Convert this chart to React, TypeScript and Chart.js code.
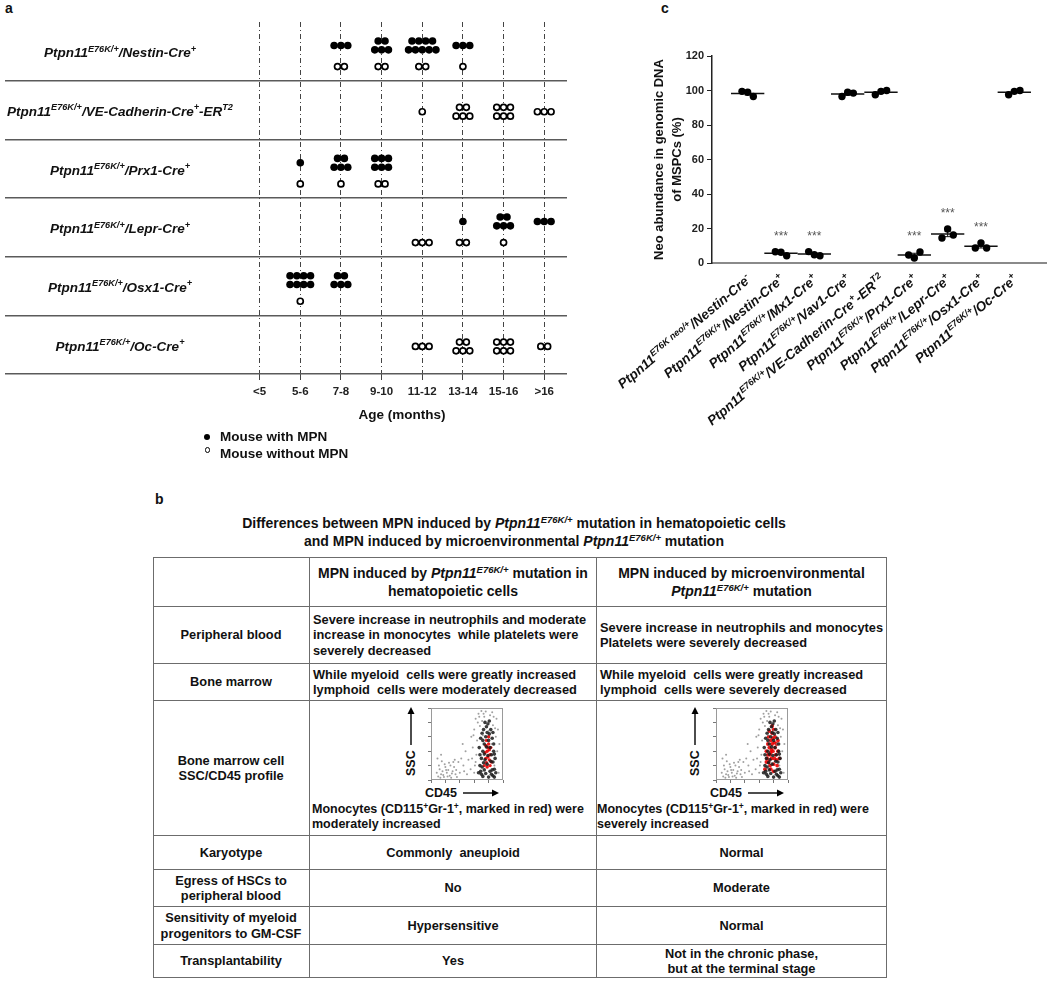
import React, { useEffect, useRef } from 'react';
import { Chart, registerables } from 'chart.js';

Chart.register(...registerables);

type Seg = { t: string; s?: boolean };

const FAMILY = '"Liberation Sans", Arial, Helvetica, sans-serif';

// ---------------- Panel a data ----------------
const ageLabels = ['<5', '5-6', '7-8', '9-10', '11-12', '13-14', '15-16', '>16'];
const strainLabels: Seg[][] = [
  [{ t: 'Ptpn11' }, { t: 'E76K/+', s: true }, { t: '/Nestin-Cre' }, { t: '+', s: true }],
  [{ t: 'Ptpn11' }, { t: 'E76K/+', s: true }, { t: '/VE-Cadherin-Cre' }, { t: '+', s: true }, { t: '-ER' }, { t: 'T2', s: true }],
  [{ t: 'Ptpn11' }, { t: 'E76K/+', s: true }, { t: '/Prx1-Cre' }, { t: '+', s: true }],
  [{ t: 'Ptpn11' }, { t: 'E76K/+', s: true }, { t: '/Lepr-Cre' }, { t: '+', s: true }],
  [{ t: 'Ptpn11' }, { t: 'E76K/+', s: true }, { t: '/Osx1-Cre' }, { t: '+', s: true }],
  [{ t: 'Ptpn11' }, { t: 'E76K/+', s: true }, { t: '/Oc-Cre' }, { t: '+', s: true }],
];
// number of mice per strain (rows) and age group (columns)
const miceWithMPN = [
  [0, 0, 3, 5, 9, 3, 0, 0],
  [0, 0, 0, 0, 0, 0, 0, 0],
  [0, 1, 5, 6, 0, 0, 0, 0],
  [0, 0, 0, 0, 0, 1, 5, 3],
  [0, 8, 5, 0, 0, 0, 0, 0],
  [0, 0, 0, 0, 0, 0, 0, 0],
];
const miceWithoutMPN = [
  [0, 0, 2, 2, 2, 1, 0, 0],
  [0, 0, 0, 0, 1, 5, 6, 3],
  [0, 1, 1, 2, 0, 0, 0, 0],
  [0, 0, 0, 0, 3, 2, 1, 0],
  [0, 1, 0, 0, 0, 0, 0, 0],
  [0, 0, 0, 0, 3, 5, 6, 2],
];

// ---------------- Panel c data ----------------
const neoLabels: Seg[][] = [
  [{ t: 'Ptpn11' }, { t: 'E76K neo/+', s: true }, { t: '/Nestin-Cre' }, { t: '-', s: true }],
  [{ t: 'Ptpn11' }, { t: 'E76K/+', s: true }, { t: '/Nestin-Cre' }, { t: '+', s: true }],
  [{ t: 'Ptpn11' }, { t: 'E76K/+', s: true }, { t: '/Mx1-Cre' }, { t: '+', s: true }],
  [{ t: 'Ptpn11' }, { t: 'E76K/+', s: true }, { t: '/Vav1-Cre' }, { t: '+', s: true }],
  [{ t: 'Ptpn11' }, { t: 'E76K/+', s: true }, { t: '/VE-Cadherin-Cre' }, { t: '+', s: true }, { t: '-ER' }, { t: 'T2', s: true }],
  [{ t: 'Ptpn11' }, { t: 'E76K/+', s: true }, { t: '/Prx1-Cre' }, { t: '+', s: true }],
  [{ t: 'Ptpn11' }, { t: 'E76K/+', s: true }, { t: '/Lepr-Cre' }, { t: '+', s: true }],
  [{ t: 'Ptpn11' }, { t: 'E76K/+', s: true }, { t: '/Osx1-Cre' }, { t: '+', s: true }],
  [{ t: 'Ptpn11' }, { t: 'E76K/+', s: true }, { t: '/Oc-Cre' }, { t: '+', s: true }],
];
const neoValues = [
  [99.5, 99, 96.5],
  [6.5, 6.2, 4.2],
  [6.6, 4.8, 4.2],
  [96.5, 99, 98.5],
  [97.5, 99.5, 100],
  [4.6, 2.9, 6.4],
  [14.5, 19.7, 16.2],
  [8.7, 11.6, 8.7],
  [97.5, 99.5, 100],
];
const neoSignificance = ['', '***', '***', '', '', '***', '***', '***', ''];
const neoTicks = [0, 20, 40, 60, 80, 100, 120];

// ---------------- Flow cytometry insets (SSC vs CD45) ----------------
const flowGray: number[][] = [
  [10, 5], [14, 8], [18, 4], [22, 10], [26, 6], [30, 12], [12, 15], [20, 18], [28, 3], [34, 8], [16, 12], [24, 14],
  [32, 18], [8, 10], [36, 4], [19, 22], [27, 20], [13, 3], [17, 7], [23, 5], [29, 9], [21, 14], [25, 24], [11, 20],
  [15, 26], [31, 25], [9, 30], [35, 14], [33, 28], [14, 35],
  [40, 10], [45, 20], [50, 8], [42, 30], [55, 15], [48, 40], [38, 25], [52, 28], [58, 45], [44, 50], [56, 60], [46, 12],
  [60, 70], [62, 85], [66, 92], [70, 96], [74, 88], [78, 80], [82, 90], [86, 76], [90, 60], [92, 40], [88, 20], [94, 10],
  [64, 55], [84, 50], [68, 75], [76, 95], [80, 68], [63, 35], [91, 85], [72, 62], [61, 20], [65, 80], [87, 88], [93, 70],
  [59, 62], [67, 88], [71, 82], [85, 94], [89, 72], [95, 50], [60, 10], [62, 25], [57, 30], [73, 92],
];
const flowBlack: number[][] = [
  [66, 10], [68, 20], [70, 30], [72, 40], [74, 50], [76, 60], [78, 66], [80, 55], [82, 45], [84, 35], [86, 25], [88, 15],
  [70, 8], [74, 14], [78, 22], [82, 12], [86, 6], [90, 10], [67, 45], [69, 58], [73, 70], [77, 74], [81, 64], [85, 58],
  [87, 40], [89, 30], [71, 18], [79, 34], [83, 26], [75, 28], [72, 5], [76, 9], [80, 4], [84, 8], [88, 4], [68, 35],
  [75, 80], [79, 78], [83, 70], [71, 65], [73, 24], [77, 46], [85, 14], [69, 12], [87, 50], [81, 82], [74, 36], [88, 36],
  [72, 55], [86, 66],
];
const flowRedHema: number[][] = [
  [74, 20], [76, 30], [78, 40], [80, 50], [82, 35], [84, 25], [77, 55], [79, 45], [81, 28], [75, 38], [83, 45], [78, 18],
  [80, 60], [76, 48], [82, 20], [79, 32], [77, 24], [81, 42],
];
const flowRedMicro: number[][] = [
  [68, 15], [70, 25], [72, 35], [74, 45], [76, 55], [78, 65], [80, 70], [82, 60], [84, 50], [86, 40], [88, 30], [85, 20],
  [80, 12], [75, 20], [72, 50], [70, 40], [73, 60], [77, 30], [79, 40], [81, 30], [83, 35], [78, 50], [74, 68], [76, 15],
  [82, 45], [86, 55], [71, 30], [79, 58], [84, 28], [77, 42], [75, 35], [80, 22], [73, 25], [78, 75], [81, 52], [76, 38],
];

// ---------------- helpers ----------------
function fontStr(size: number, italic: boolean, bold = true) {
  return `${italic ? 'italic ' : ''}${bold ? 'bold ' : ''}${size}px ${FAMILY}`;
}
function richWidth(ctx: CanvasRenderingContext2D, segs: Seg[], size: number, italic: boolean) {
  let w = 0;
  for (const sg of segs) {
    ctx.font = fontStr(sg.s ? size * 0.68 : size, italic);
    w += ctx.measureText(sg.t).width;
  }
  return w;
}
function drawRich(ctx: CanvasRenderingContext2D, segs: Seg[], x: number, y: number, size: number, align: string, italic: boolean) {
  const w = richWidth(ctx, segs, size, italic);
  let cx = align === 'center' ? x - w / 2 : align === 'right' ? x - w : x;
  ctx.textAlign = 'left';
  ctx.textBaseline = 'alphabetic';
  for (const sg of segs) {
    const sz = sg.s ? size * 0.68 : size;
    ctx.font = fontStr(sz, italic);
    ctx.fillText(sg.t, cx, sg.s ? y - size * 0.42 : y);
    cx += ctx.measureText(sg.t).width;
  }
}

// arranges n mice of one age group as a small packed cluster around (cx, cy)
function clusterPoints(n: number, cx: number, cy: number, out: { x: number; y: number }[]) {
  const DX = 0.168;
  const DY = 0.075;
  if (n <= 0) return;
  if (n <= 3) {
    for (let i = 0; i < n; i++) out.push({ x: cx + (i - (n - 1) / 2) * DX, y: cy });
    return;
  }
  const bottom = Math.ceil(n / 2);
  const top = n - bottom;
  for (let i = 0; i < top; i++) out.push({ x: cx + (i - (top - 1) / 2) * DX, y: cy - DY });
  for (let i = 0; i < bottom; i++) out.push({ x: cx + (i - (bottom - 1) / 2) * DX, y: cy + DY });
}

function makeMouseChart(canvas: HTMLCanvasElement) {
  const filled: { x: number; y: number }[] = [];
  const open: { x: number; y: number }[] = [];
  strainLabels.forEach((_, r) => {
    const hasFilled = miceWithMPN[r].some((v) => v > 0);
    ageLabels.forEach((__, c) => {
      clusterPoints(miceWithMPN[r][c], c, r + 0.5 - 0.1, filled);
      clusterPoints(miceWithoutMPN[r][c], c, r + 0.5 + (hasFilled ? 0.26 : 0.03), open);
    });
  });
  const labelPlugin = {
    id: 'rowLabels',
    afterDraw(chart: any) {
      const ctx = chart.ctx as CanvasRenderingContext2D;
      const ys = chart.scales.y;
      const xs = chart.scales.x;
      ctx.save();
      ctx.fillStyle = '#111';
      strainLabels.forEach((segs, r) => {
        const py = ys.getPixelForValue(r + 0.5);
        drawRich(ctx, segs, 120, py + 13.5 * 0.36 + 1, 13.5, 'center', true);
      });
      ctx.font = fontStr(13.5, false);
      ctx.textAlign = 'center';
      ctx.textBaseline = 'middle';
      ctx.fillText('Age (months)', xs.getPixelForValue((ageLabels.length - 1) / 2), chart.chartArea.bottom + 41);
      ctx.restore();
    },
  };
  return new Chart(canvas, {
    type: 'scatter',
    data: {
      datasets: [
        { label: 'Mouse with MPN', data: filled, pointRadius: 3.8, pointHoverRadius: 3.8, pointBackgroundColor: '#000', pointBorderColor: '#000', pointBorderWidth: 0 },
        { label: 'Mouse without MPN', data: open, pointRadius: 3.0, pointHoverRadius: 3.0, pointBackgroundColor: '#fff', pointBorderColor: '#000', pointBorderWidth: 1.7 },
      ],
    },
    options: {
      responsive: false,
      animation: false,
      events: [],
      layout: { padding: { left: 0, right: 13, top: 22, bottom: 0 } },
      plugins: { legend: { display: false }, tooltip: { enabled: false } },
      scales: {
        x: {
          type: 'linear',
          min: -6.27,
          max: 7.56,
          afterBuildTicks: (s: any) => {
            s.ticks = ageLabels.map((_, i) => ({ value: i }));
          },
          afterFit: (s: any) => {
            s.height = 56;
          },
          ticks: {
            autoSkip: false,
            maxRotation: 0,
            padding: 5,
            color: '#222',
            font: { family: FAMILY, size: 11.5, weight: 'bold' },
            callback: (v: any) => ageLabels[v] ?? '',
          },
          grid: { color: '#444', lineWidth: 1, drawTicks: true, tickLength: 6 },
          border: { display: false, dash: [5, 3, 1, 3] },
        },
        y: {
          type: 'linear',
          reverse: true,
          min: 0,
          max: strainLabels.length,
          afterBuildTicks: (s: any) => {
            s.ticks = strainLabels.map((_, i) => ({ value: i + 1 }));
          },
          afterFit: (s: any) => {
            s.width = 0;
          },
          ticks: { display: false },
          grid: { color: '#5a5a5a', lineWidth: 1.5, drawTicks: false },
          border: { display: false },
        },
      },
    } as any,
    plugins: [labelPlugin],
  });
}

function makeNeoChart(canvas: HTMLCanvasElement) {
  const pts: { x: number; y: number }[] = [];
  neoValues.forEach((vals, i) => {
    vals.forEach((v, j) => pts.push({ x: i + (j - (vals.length - 1) / 2) * 0.17, y: v }));
  });
  const meanPlugin = {
    id: 'meanLines',
    beforeDatasetsDraw(chart: any) {
      const ctx = chart.ctx as CanvasRenderingContext2D;
      const xs = chart.scales.x;
      const ys = chart.scales.y;
      ctx.save();
      ctx.strokeStyle = '#111';
      neoValues.forEach((vals, i) => {
        const n = vals.length;
        const m = vals.reduce((a, b) => a + b, 0) / n;
        const sd = Math.sqrt(vals.reduce((a, b) => a + (b - m) * (b - m), 0) / (n - 1));
        const sem = sd / Math.sqrt(n);
        const ym = ys.getPixelForValue(m);
        ctx.lineWidth = 1.5;
        ctx.beginPath();
        ctx.moveTo(xs.getPixelForValue(i - 0.5), ym);
        ctx.lineTo(xs.getPixelForValue(i + 0.5), ym);
        ctx.stroke();
        const xc = xs.getPixelForValue(i);
        const yt = ys.getPixelForValue(m + sem);
        const yb = ys.getPixelForValue(m - sem);
        ctx.lineWidth = 1;
        ctx.beginPath();
        ctx.moveTo(xc, yt);
        ctx.lineTo(xc, yb);
        ctx.moveTo(xc - 3, yt);
        ctx.lineTo(xc + 3, yt);
        ctx.moveTo(xc - 3, yb);
        ctx.lineTo(xc + 3, yb);
        ctx.stroke();
      });
      ctx.restore();
    },
    afterDraw(chart: any) {
      const ctx = chart.ctx as CanvasRenderingContext2D;
      const xs = chart.scales.x;
      const ys = chart.scales.y;
      ctx.save();
      neoValues.forEach((vals, i) => {
        if (!neoSignificance[i]) return;
        ctx.fillStyle = '#555';
        ctx.font = `12px ${FAMILY}`;
        ctx.textAlign = 'center';
        ctx.textBaseline = 'middle';
        ctx.fillText(neoSignificance[i], xs.getPixelForValue(i), ys.getPixelForValue(Math.max(...vals) + 10) + 2);
      });
      ctx.fillStyle = '#111';
      neoLabels.forEach((segs, i) => {
        const px = xs.getPixelForValue(i);
        ctx.save();
        ctx.translate(px + 1, chart.chartArea.bottom + 14);
        ctx.rotate((-40 * Math.PI) / 180);
        drawRich(ctx, segs, 0, 5, 13.5, 'right', true);
        ctx.restore();
      });
      ctx.restore();
    },
  };
  return new Chart(canvas, {
    type: 'scatter',
    data: {
      datasets: [
        { label: 'Neo abundance', data: pts, pointRadius: 3.7, pointHoverRadius: 3.7, pointBackgroundColor: '#000', pointBorderColor: '#000', pointBorderWidth: 0 },
      ],
    },
    options: {
      responsive: false,
      animation: false,
      events: [],
      layout: { padding: { left: 80, right: 2, top: 56, bottom: 0 } },
      plugins: { legend: { display: false }, tooltip: { enabled: false } },
      scales: {
        x: {
          type: 'linear',
          min: -1.07,
          max: neoLabels.length - 1 + 0.96,
          ticks: { display: false },
          grid: { display: false },
          border: { display: true, color: '#8a8a8a', width: 2 },
          afterFit: (s: any) => {
            s.height = 187;
          },
        },
        y: {
          type: 'linear',
          min: neoTicks[0],
          max: neoTicks[neoTicks.length - 1],
          afterBuildTicks: (s: any) => {
            s.ticks = neoTicks.map((v) => ({ value: v }));
          },
          afterFit: (s: any) => {
            s.width = 72;
          },
          ticks: { color: '#222', padding: 3, font: { family: FAMILY, size: 11, weight: 'bold' } },
          grid: { drawOnChartArea: false, drawTicks: true, tickLength: 5, color: '#222', lineWidth: 1 },
          border: { display: true, color: '#222', width: 1.5 },
          title: {
            display: true,
            text: ['Neo abundance in genomic DNA', 'of MSPCs (%)'],
            color: '#111',
            font: { family: FAMILY, size: 13, weight: 'bold', lineHeight: 18 / 13 },
            padding: { top: 10, bottom: 0 },
          },
        },
      },
    } as any,
    plugins: [meanPlugin],
  });
}

function makeFlowChart(canvas: HTMLCanvasElement, red: number[][], redRadius: number) {
  const toPts = (a: number[][]) => a.map(([x, y]) => ({ x, y }));
  const boxPlugin = {
    id: 'box',
    afterDraw(chart: any) {
      const { ctx, chartArea } = chart;
      ctx.save();
      ctx.strokeStyle = '#9a9a9a';
      ctx.lineWidth = 1;
      ctx.strokeRect(chartArea.left + 0.5, chartArea.top + 0.5, chartArea.right - chartArea.left - 1, chartArea.bottom - chartArea.top - 1);
      ctx.restore();
    },
  };
  const axis = (isX: boolean) => ({
    type: 'linear',
    min: 0,
    max: 100,
    ticks: { display: false, stepSize: 20 },
    grid: { drawOnChartArea: false, drawTicks: true, tickLength: 3, color: '#777' },
    border: { display: false },
    afterFit: (s: any) => {
      if (isX) s.height = 6;
      else s.width = 6;
    },
  });
  return new Chart(canvas, {
    type: 'scatter',
    data: {
      datasets: [
        { label: 'all cells', data: toPts(flowGray), pointRadius: 1.0, pointBackgroundColor: 'rgba(120,120,120,0.7)', pointBorderWidth: 0 },
        { label: 'dense', data: toPts(flowBlack), pointRadius: 1.8, pointBackgroundColor: 'rgba(25,25,25,0.85)', pointBorderWidth: 0 },
        { label: 'CD115+Gr-1+ monocytes', data: toPts(red), pointRadius: redRadius, pointBackgroundColor: 'rgba(235,0,0,0.9)', pointBorderWidth: 0 },
      ],
    },
    options: {
      responsive: false,
      animation: false,
      events: [],
      layout: { padding: { left: 2, right: 2, top: 2, bottom: 0 } },
      plugins: { legend: { display: false }, tooltip: { enabled: false } },
      scales: { x: axis(true), y: axis(false) },
    } as any,
    plugins: [boxPlugin],
  });
}

function ChartCanvas({ left, top, width, height, make }: { left: number; top: number; width: number; height: number; make: (c: HTMLCanvasElement) => Chart }) {
  const ref = useRef<HTMLCanvasElement>(null);
  useEffect(() => {
    const chart = make(ref.current as HTMLCanvasElement);
    return () => chart.destroy();
  }, []);
  return <canvas ref={ref} width={width} height={height} style={{ position: 'absolute', left, top, width, height }} />;
}

// ---------------- table ----------------
const colX = [153, 310, 597, 887];
const rowY = [557, 607, 664, 701, 836, 870, 907, 945, 978];

const Gene = () => (
  <>
    <i>Ptpn11</i>
    <sup style={{ fontSize: '0.68em', verticalAlign: '0.5em', lineHeight: 0, fontStyle: 'italic' }}>E76K/+</sup>
  </>
);
const Sup = ({ t }: { t: string }) => <sup style={{ fontSize: '0.68em', verticalAlign: '0.45em', lineHeight: 0 }}>{t}</sup>;

type Cell = { content: React.ReactNode; align?: 'left' | 'center'; size?: number };
const tableRows: Cell[][] = [
  [
    { content: '' },
    { content: (<>MPN induced by <Gene /> mutation in<br />hematopoietic cells</>), size: 14 },
    { content: (<>MPN induced by microenvironmental<br /><Gene /> mutation</>), size: 14 },
  ],
  [
    { content: 'Peripheral blood' },
    { content: (<>Severe increase in neutrophils and moderate<br />increase in monocytes  while platelets were<br />severely decreased</>), align: 'left' },
    { content: (<>Severe increase in neutrophils and monocytes<br />Platelets were severely decreased</>), align: 'left' },
  ],
  [
    { content: 'Bone marrow' },
    { content: (<>While myeloid  cells were greatly increased<br />lymphoid  cells were moderately decreased</>), align: 'left' },
    { content: (<>While myeloid  cells were greatly increased<br />lymphoid  cells were severely decreased</>), align: 'left' },
  ],
  [
    { content: (<>Bone marrow cell<br />SSC/CD45 profile</>) },
    { content: '' },
    { content: '' },
  ],
  [{ content: 'Karyotype' }, { content: 'Commonly  aneuploid' }, { content: 'Normal' }],
  [{ content: (<>Egress of HSCs to<br />peripheral blood</>) }, { content: 'No' }, { content: 'Moderate' }],
  [{ content: (<>Sensitivity of myeloid<br />progenitors to GM-CSF</>) }, { content: 'Hypersensitive' }, { content: 'Normal' }],
  [{ content: 'Transplantability' }, { content: 'Yes' }, { content: (<>Not in the chronic phase,<br />but at the terminal stage</>) }],
];

const BORDER = '1.6px solid #6c6c6c';

function Arrow({ len }: { len: number }) {
  return (
    <svg width={len} height={10} style={{ display: 'block' }}>
      <line x1={0} y1={5} x2={len - 6} y2={5} stroke="#000" strokeWidth={1.4} />
      <polygon points={`${len - 7},1.5 ${len},5 ${len - 7},8.5`} fill="#000" />
    </svg>
  );
}

function FlowInset({ boxLeft, sscX, red, redRadius, caption }: { boxLeft: number; sscX: number; red: number[][]; redRadius: number; caption: React.ReactNode }) {
  return (
    <>
      <ChartCanvas left={boxLeft - 8} top={704} width={84} height={82} make={(c) => makeFlowChart(c, red, redRadius)} />
      <div
        style={{
          position: 'absolute', left: sscX - 36, top: 733, width: 72, height: 14, transform: 'rotate(-90deg)',
          display: 'flex', alignItems: 'center', gap: 5, fontSize: 12.5, fontWeight: 'bold', lineHeight: '14px',
        }}
      >
        <span>SSC</span>
        <Arrow len={38} />
      </div>
      <div style={{ position: 'absolute', left: boxLeft - 6, top: 786, height: 14, display: 'flex', alignItems: 'center', gap: 6, fontSize: 12.5, fontWeight: 'bold' }}>
        <span>CD45</span>
        <Arrow len={36} />
      </div>
      <div style={{ position: 'absolute', left: boxLeft - 119, top: 802, fontSize: 12.5, fontWeight: 'bold', lineHeight: '14.5px', whiteSpace: 'pre' }}>{caption}</div>
    </>
  );
}

export default function App() {
  return (
    <div style={{ position: 'absolute', left: 0, top: 0, width: 1050, height: 981, background: '#fff', fontFamily: FAMILY, color: '#111', overflow: 'hidden' }}>
      <div style={{ position: 'absolute', left: 5, top: 0, fontSize: 14, fontWeight: 'bold', lineHeight: '16px' }}>a</div>
      <div style={{ position: 'absolute', left: 661, top: 0, fontSize: 14, fontWeight: 'bold', lineHeight: '16px' }}>c</div>
      <div style={{ position: 'absolute', left: 155, top: 491, fontSize: 14, fontWeight: 'bold', lineHeight: '16px' }}>b</div>

      <ChartCanvas left={0} top={0} width={580} height={430} make={makeMouseChart} />
      <ChartCanvas left={560} top={0} width={490} height={450} make={makeNeoChart} />

      {/* legend of panel a */}
      <div style={{ position: 'absolute', left: 204, top: 434, width: 6, height: 6, borderRadius: '50%', background: '#000' }} />
      <div style={{ position: 'absolute', left: 204.5, top: 447, width: 3.5, height: 3.5, borderRadius: '50%', border: '1.3px solid #000' }} />
      <div style={{ position: 'absolute', left: 220, top: 429, fontSize: 13.5, fontWeight: 'bold', lineHeight: '16px' }}>Mouse with MPN</div>
      <div style={{ position: 'absolute', left: 220, top: 446, fontSize: 13.5, fontWeight: 'bold', lineHeight: '16px' }}>Mouse without MPN</div>

      {/* panel b title */}
      <div style={{ position: 'absolute', left: 147, top: 515, width: 734, textAlign: 'center', fontSize: 14, fontWeight: 'bold', lineHeight: '17.5px' }}>
        Differences between MPN induced by <Gene /> mutation in hematopoietic cells
        <br />
        and MPN induced by microenvironmental <Gene /> mutation
      </div>

      {/* panel b table */}
      <div style={{ position: 'absolute', left: colX[0], top: rowY[0], width: colX[3] - colX[0], height: rowY[rowY.length - 1] - rowY[0], borderTop: BORDER, borderLeft: BORDER, boxSizing: 'border-box' }} />
      {tableRows.map((row, r) =>
        row.map((cell, c) => (
          <div
            key={`${r}-${c}`}
            style={{
              position: 'absolute', left: colX[c], top: rowY[r], width: colX[c + 1] - colX[c], height: rowY[r + 1] - rowY[r],
              borderRight: BORDER, borderBottom: BORDER, boxSizing: 'border-box', display: 'flex', alignItems: 'center',
              justifyContent: cell.align === 'left' ? 'flex-start' : 'center', textAlign: cell.align === 'left' ? 'left' : 'center',
              paddingLeft: cell.align === 'left' ? 3 : 0, fontSize: cell.size ?? 12.8, fontWeight: 'bold',
              lineHeight: cell.size ? '18px' : '15.5px', whiteSpace: 'pre',
            }}
          >
            <div>{cell.content}</div>
          </div>
        )),
      )}

      <FlowInset
        boxLeft={431}
        sscX={411}
        red={flowRedHema}
        redRadius={1.7}
        caption={<>Monocytes (CD115<Sup t="+" />Gr-1<Sup t="+" />, marked in red) were<br />moderately increased</>}
      />
      <FlowInset
        boxLeft={716}
        sscX={695}
        red={flowRedMicro}
        redRadius={1.9}
        caption={<>Monocytes (CD115<Sup t="+" />Gr-1<Sup t="+" />, marked in red) were<br />severely increased</>}
      />
    </div>
  );
}
